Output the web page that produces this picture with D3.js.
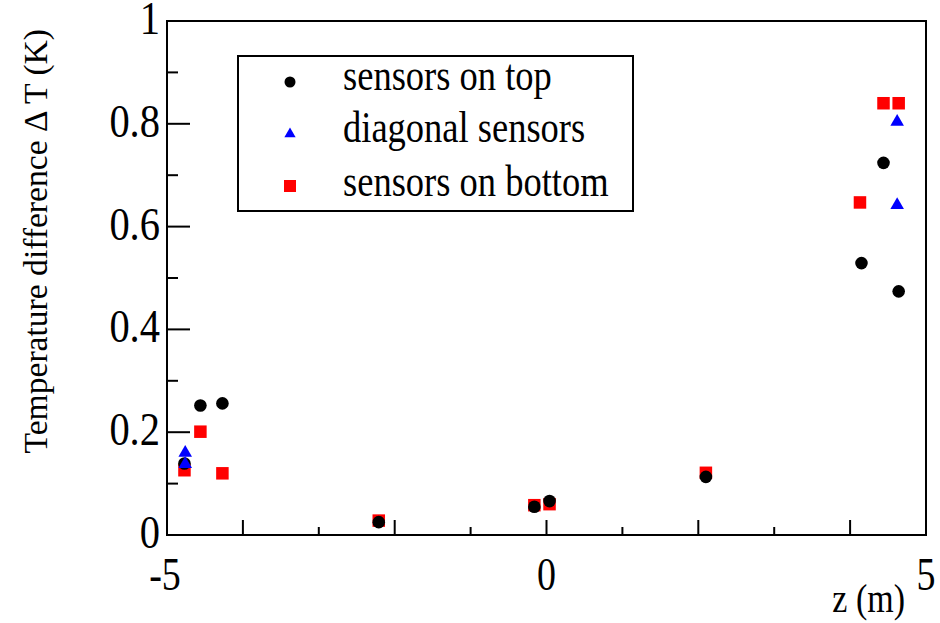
<!DOCTYPE html>
<html>
<head>
<meta charset="utf-8">
<script src="https://cdn.jsdelivr.net/npm/d3@7"></script>
<style>
  body { margin: 0; background: #fff; }
</style>
</head>
<body>
<div id="chart"></div>
<script>
// sensor positions z (m) and temperature differences (K)
const topZ = [-4.77, -4.56, -4.27, -2.21, -0.16, 0.04, 2.10, 4.15, 4.44, 4.64];
const topDT = [0.139, 0.252, 0.256, 0.025, 0.055, 0.066, 0.113, 0.529, 0.724, 0.474];

const diagZ = [-4.76, -4.76, 4.62, 4.62];
const diagDT = [0.160, 0.138, 0.804, 0.642];

const botZ = [-4.77, -4.56, -4.27, -2.21, -0.16, 0.04, 2.10, 4.13, 4.44, 4.64];
const botDT = [0.126, 0.201, 0.120, 0.028, 0.058, 0.060, 0.121, 0.647, 0.840, 0.840];

const xTickLabels = [-5, 0, 5];
const yTickLabels = [0, 0.2, 0.4, 0.6, 0.8, 1];
const legendLabels = ["sensors on top", "diagonal sensors", "sensors on bottom"];

const FONT = "'Liberation Serif', Tinos, 'Times New Roman', Times, serif";

const width = 940, height = 623;
const margin = { left: 167, right: 14, top: 21, bottom: 88 };

const svg = d3.select("#chart").append("svg")
  .attr("width", width)
  .attr("height", height)
  .attr("font-family", FONT);

const x = d3.scaleLinear().domain([-5, 5]).range([margin.left, width - margin.right]);
const y = d3.scaleLinear().domain([0, 1]).range([height - margin.bottom, margin.top]);

// the original figure is a bit stretched vertically, so is its lettering
const stretch = (px, py, k) => `translate(${px},${py}) scale(1,${k})`;

// ticks (inward, long on even values)
const xt = d3.range(-5, 5.01, 1);
svg.selectAll(".xtick").data(xt).enter().append("line")
  .attr("x1", d => x(d)).attr("x2", d => x(d))
  .attr("y1", y(0)).attr("y2", d => y(0) - (Math.abs(d) % 2 === 0 ? 15 : 8))
  .attr("stroke", "#000").attr("stroke-width", 2);

const yt = d3.range(0, 10.5, 1).map(d => d / 10);
svg.selectAll(".ytick").data(yt).enter().append("line")
  .attr("y1", d => y(d)).attr("y2", d => y(d))
  .attr("x1", x(-5)).attr("x2", (d, i) => x(-5) + (i % 2 === 0 ? 23 : 11))
  .attr("stroke", "#000").attr("stroke-width", 2);

// frame
svg.append("rect")
  .attr("x", x(-5)).attr("y", y(1))
  .attr("width", x(5) - x(-5)).attr("height", y(0) - y(1))
  .attr("fill", "none").attr("stroke", "#000").attr("stroke-width", 2);

// tick labels
svg.selectAll(".xlab").data(xTickLabels).enter().append("text")
  .attr("transform", d => stretch(x(d) - (d < 0 ? 2 : 0), 590, 1.22))
  .attr("text-anchor", "middle")
  .style("font-size", "38px")
  .text(d => d);

svg.selectAll(".ylab").data(yTickLabels).enter().append("text")
  .attr("transform", d => stretch(160, y(d) + 13, 1.13))
  .attr("text-anchor", "end")
  .style("font-size", "40.5px")
  .text(d => d);

// axis titles
svg.append("text")
  .attr("transform", stretch(905, 612, 1.15))
  .attr("text-anchor", "end")
  .style("font-size", "34px")
  .text("z (m)");

svg.append("text")
  .attr("transform", "translate(47,29) rotate(-90)")
  .attr("text-anchor", "end")
  .style("font-size", "33.6px")
  .text("Temperature difference \u0394 T (K)");

// markers
const sq = 12.5;
svg.selectAll(".bot").data(d3.zip(botZ, botDT)).enter().append("rect")
  .attr("x", d => x(d[0]) - sq / 2).attr("y", d => y(d[1]) - sq / 2)
  .attr("width", sq).attr("height", sq)
  .attr("fill", "#ff0000");

svg.selectAll(".top").data(d3.zip(topZ, topDT)).enter().append("circle")
  .attr("cx", d => x(d[0])).attr("cy", d => y(d[1]))
  .attr("r", 6.3)
  .attr("fill", "#000");

const tri = d3.symbol().type(d3.symbolTriangle).size(80);
svg.selectAll(".diag").data(d3.zip(diagZ, diagDT)).enter().append("path")
  .attr("d", tri)
  .attr("transform", d => `translate(${x(d[0])},${y(d[1])})`)
  .attr("fill", "#0000ff");

// legend
const lg = svg.append("g");
lg.append("rect")
  .attr("x", 238).attr("y", 56).attr("width", 395).attr("height", 155)
  .attr("fill", "#fff").attr("stroke", "#000").attr("stroke-width", 2);

const rowY = [82, 134, 186];
const baseY = [90, 142, 196];
lg.append("circle").attr("cx", 290).attr("cy", rowY[0]).attr("r", 5.5).attr("fill", "#000");
lg.append("path").attr("d", d3.symbol().type(d3.symbolTriangle).size(55))
  .attr("transform", `translate(290,${rowY[1]})`).attr("fill", "#0000ff");
lg.append("rect").attr("x", 284).attr("y", rowY[2] - 6).attr("width", 12).attr("height", 12)
  .attr("fill", "#ff0000");

lg.selectAll(".ltext").data(legendLabels).enter().append("text")
  .attr("transform", (d, i) => stretch(343, baseY[i], 1.2))
  .style("font-size", "36.5px")
  .text(d => d);
</script>
</body>
</html>
